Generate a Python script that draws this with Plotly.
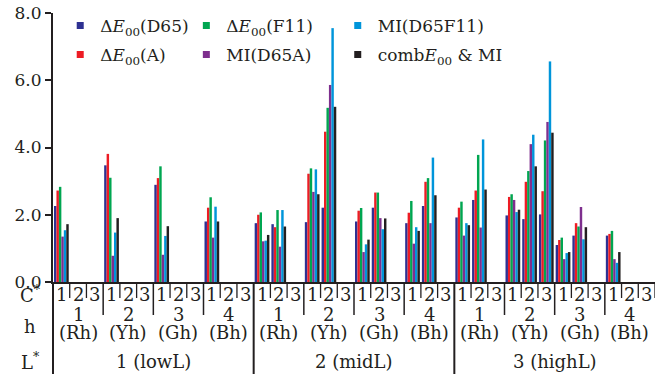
import plotly.graph_objects as go

# ---- category hierarchy ----
L_labels = ["1 (lowL)", "2 (midL)", "3 (highL)"]
h_numbers = ["1", "2", "3", "4"]
h_names = ["(Rh)", "(Yh)", "(Gh)", "(Bh)"]
C_labels = ["1", "2", "3"]

# ---- series values: one entry per (L, h, C) slot, None = no bar ----
N = None
dE_D65 = [2.26, N, N, 3.47, N, N, 2.89, N, N, 1.80, N, N,
          1.75, 1.72, N, 1.78, 2.21, N, 1.80, 2.21, N, 1.75, 2.26, N,
          1.92, 2.44, N, 1.98, 1.87, 2.01, 1.10, 1.38, N, 1.38, N, N]
dE_A = [2.72, N, N, 3.81, N, N, 3.09, N, N, 2.21, N, N,
        2.00, 1.63, N, 3.22, 4.47, N, 2.12, 2.66, N, 2.06, 2.98, N,
        2.21, 2.72, N, 2.53, 2.98, 2.70, 1.25, 1.75, N, 1.43, N, N]
dE_F11 = [2.83, N, N, 3.10, N, N, 3.44, N, N, 2.52, N, N,
          2.07, 2.14, N, 3.38, 5.18, N, 2.20, 2.66, N, 2.41, 3.09, N,
          2.39, 3.78, N, 2.61, 3.30, 4.21, 1.32, 1.65, N, 1.52, N, N]
MI_D65A = [1.35, N, N, 0.78, N, N, 0.81, N, N, 1.32, N, N,
           1.21, 1.05, N, 2.68, 5.86, N, 0.89, 1.90, N, 1.14, 1.75, N,
           1.38, 1.62, N, 2.44, 4.10, 4.76, 0.68, 2.23, N, 0.68, N, N]
MI_D65F11 = [1.54, N, N, 1.47, N, N, 1.37, N, N, 2.24, N, N,
             1.23, 2.14, N, 3.35, 7.55, N, 1.12, 1.57, N, 1.63, 3.70, N,
             1.75, 4.24, N, 2.08, 4.38, 6.56, 0.86, 1.27, N, 0.57, N, N]
comb = [1.72, N, N, 1.90, N, N, 1.66, N, N, 1.80, N, N,
        1.40, 1.65, N, 2.61, 5.21, N, 1.26, 1.89, N, 1.52, 2.58, N,
        1.69, 2.75, N, 2.15, 3.44, 4.44, 0.89, 1.63, N, 0.89, N, N]

series_names = ["Δ<i>E</i><sub>00</sub>(D65)", "Δ<i>E</i><sub>00</sub>(A)",
                "Δ<i>E</i><sub>00</sub>(F11)", "MI(D65A)", "MI(D65F11)",
                "comb<i>E</i><sub>00</sub> &amp; MI"]
series_values = [dE_D65, dE_A, dE_F11, MI_D65A, MI_D65F11, comb]
colors = ["#2E3192", "#ED1C24", "#00A651", "#7E2F8E", "#0095DA", "#231F20"]
legend_ids = ["legend", "legend", "legend2", "legend2", "legend3", "legend3"]

y_ticks = [0, 2, 4, 6, 8]

FONT = "DejaVu Serif"
nL, nH, nC = len(L_labels), len(h_numbers), len(C_labels)
n_slots = nL * nH * nC
slot_x = [i + 0.5 for i in range(n_slots)]

fig = go.Figure()
for name, vals, col in zip(series_names, series_values, colors):
    fig.add_trace(go.Bar(x=slot_x, y=vals, name=name, marker=dict(color=col, line=dict(width=0)),
                         showlegend=False))
# legend entries (small squares)
for k, (name, col, lg) in enumerate(zip(series_names, colors, legend_ids)):
    fig.add_trace(go.Scatter(x=[None], y=[None], mode="markers", name=name,
                             marker=dict(symbol="square", size=7, color=col),
                             legend=lg, legendgroup="g%d" % k, showlegend=True))

W, H = 655, 374
ml, mr, mt, mb = 53, 0, 13, 92
ph = H - mt - mb
pw = W - ml - mr

def py(px):  # pixel row -> paper y
    return (H - mb - px) / ph

shapes = []
annotations = []
for s in range(n_slots + 1):
    xp = s / n_slots
    if s % (nH * nC) == 0 and s < n_slots:
        y1, w = py(H), 2
    elif s % nC == 0 and s < n_slots:
        y1, w = py(315), 1.5
    else:
        y1, w = py(298), 1.3
    shapes.append(dict(type="line", xref="paper", yref="paper", x0=xp, x1=xp, y0=0, y1=y1,
                       line=dict(color="#231F20", width=w)))

for li, Ll in enumerate(L_labels):
    annotations.append(dict(x=li * nH * nC + nH * nC / 2, y=py(361), xref="x", yref="paper",
                            text=Ll, showarrow=False, yanchor="middle"))
    for hi in range(nH):
        base = li * nH * nC + hi * nC
        annotations.append(dict(x=base + nC / 2, y=py(314), xref="x", yref="paper",
                                text=h_numbers[hi], showarrow=False, yanchor="middle"))
        annotations.append(dict(x=base + nC / 2, y=py(332), xref="x", yref="paper",
                                text=h_names[hi], showarrow=False, yanchor="middle"))
        for ci in range(nC):
            annotations.append(dict(x=base + ci + 0.5, y=py(294), xref="x", yref="paper",
                                    text=C_labels[ci], showarrow=False, yanchor="middle"))

row_x = (30 - ml) / pw
for txt, yy in [("C<sup>*</sup>", 294), ("h", 326), ("L<sup>*</sup>", 361)]:
    annotations.append(dict(x=row_x, y=py(yy), xref="paper", yref="paper", text=txt,
                            showarrow=False, xanchor="center", yanchor="middle"))

legend_common = dict(orientation="v", xanchor="left", yanchor="top", bgcolor="rgba(0,0,0,0)",
                     font=dict(family=FONT, size=17, color="#231F20"), tracegroupgap=4,
                     itemwidth=30)

fig.update_layout(
    width=W, height=H,
    margin=dict(l=ml, r=mr, t=mt, b=mb, autoexpand=False),
    paper_bgcolor="white", plot_bgcolor="white",
    font=dict(family=FONT, size=18, color="#231F20"),
    barmode="group", bargap=0.12, bargroupgap=0,
    xaxis=dict(range=[0, n_slots], showticklabels=False, ticks="", showgrid=False,
               zeroline=False, showline=True, linecolor="#231F20", linewidth=2, fixedrange=True,
               automargin=False),
    yaxis=dict(range=[0, 8], tickvals=y_ticks, tickformat=".1f", showgrid=False, zeroline=False,
               showline=True, linecolor="#231F20", linewidth=2, ticks="outside", ticklen=6,
               tickwidth=2, tickcolor="#231F20", fixedrange=True, automargin=False,
               tickfont=dict(size=17)),
    shapes=shapes,
    annotations=annotations,
    showlegend=True,
    legend=dict(x=0.012, y=1.019, **legend_common),
    legend2=dict(x=0.2215, y=1.019, **legend_common),
    legend3=dict(x=0.473, y=1.019, **legend_common),
)

fig.write_html("out.html", config={"displayModeBar": False},
               post_script="document.body.style.margin='0';document.body.style.overflow='hidden';")
